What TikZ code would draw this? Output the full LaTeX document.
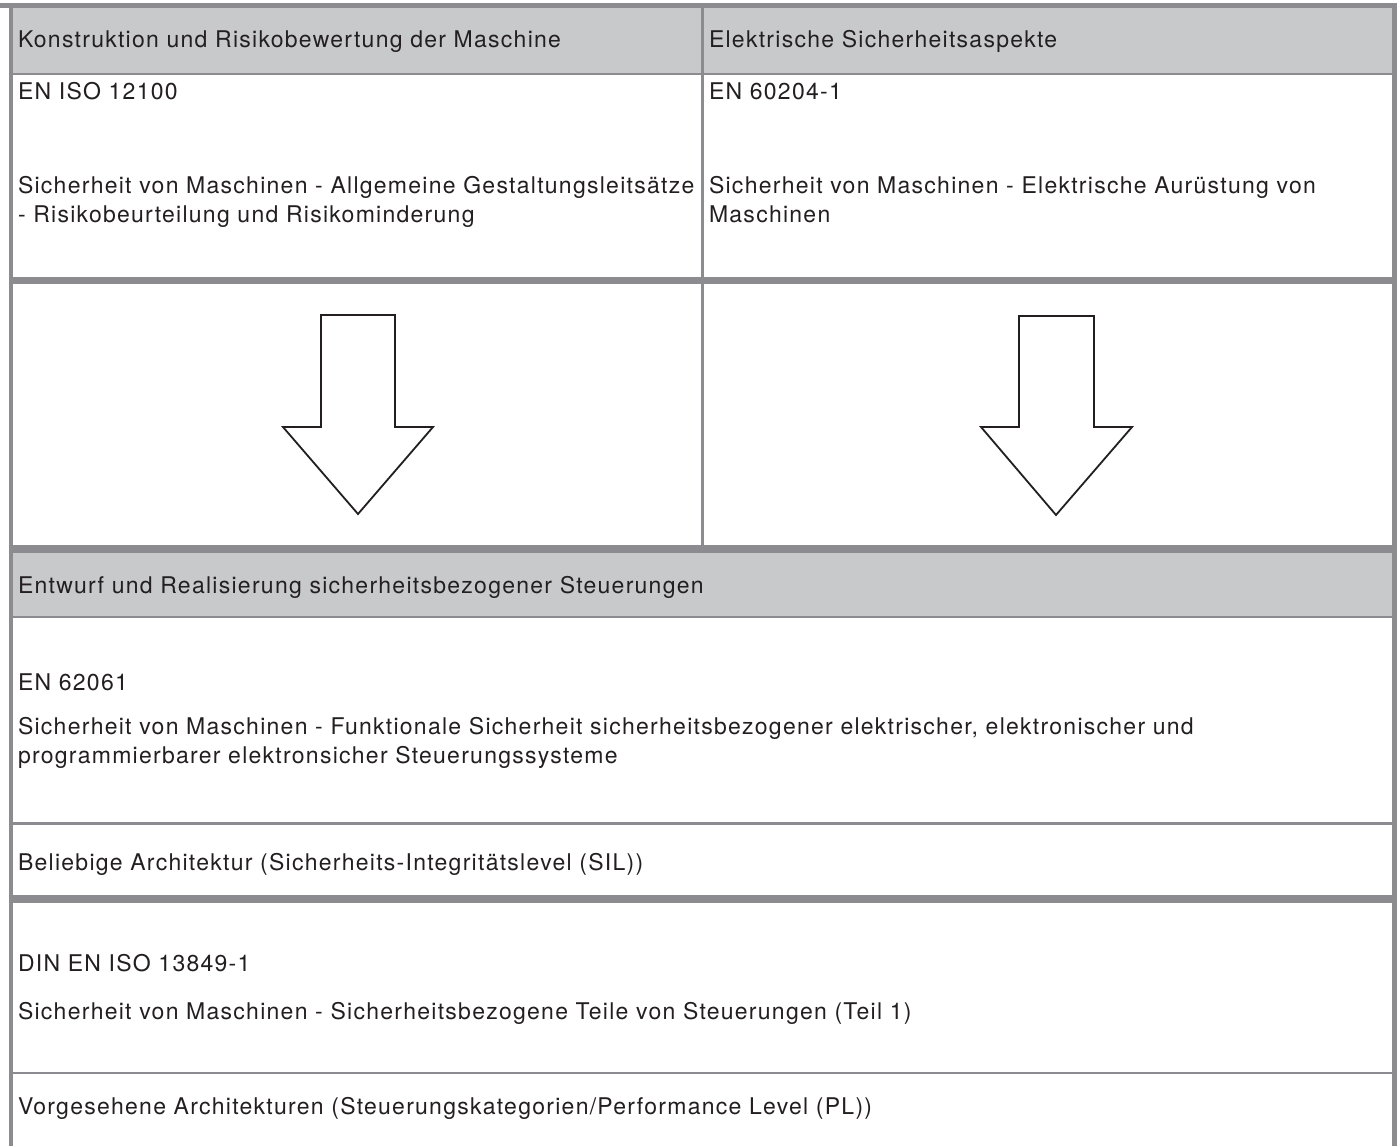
\documentclass[tikz,border=0pt]{standalone}
\usepackage{fontspec}
\setmainfont{TeX Gyre Heros}[LetterSpace=5.5]
\definecolor{rulegray}{HTML}{8C8C90}
\definecolor{headgray}{HTML}{C8C9CB}
\definecolor{ink}{HTML}{231F20}
\begin{document}
\begin{tikzpicture}[x=1pt,y=-1pt,
  txt/.style={anchor=base west,inner sep=0pt,outer sep=0pt,text=ink,font=\fontsize{23}{29}\selectfont},
  thinrule/.style={draw=rulegray,line width=2.5pt},
  thickrule/.style={draw=rulegray,line width=7.5pt},
  siderule/.style={draw=rulegray,line width=4.8pt},
  blockarrow/.style={draw=ink,fill=white,line width=1.8pt,line join=miter}]
\useasboundingbox (0,0) rectangle (1400,1146);
\fill[white] (0,0) rectangle (1400,1146);
% header fills
\fill[headgray] (11,8) rectangle (1394,74);
\fill[headgray] (11,552) rectangle (1394,617);
% rules
\draw[thickrule,line width=5pt] (0,5.8) -- (1397,5.8);
\draw[siderule,line width=4.4pt] (11,3.5) -- (11,1146);
\draw[siderule,line width=5.2pt] (1394.7,3.5) -- (1394.7,1146);
\draw[thinrule] (11,74) -- (1394,74);
\draw[thinrule] (702.3,8) -- (702.3,549);
\draw[thickrule,line width=7pt] (11,280.5) -- (1394,280.5);
\draw[thickrule] (11,549) -- (1394,549);
\draw[thinrule] (11,617) -- (1394,617);
\draw[thinrule] (11,823.7) -- (1394,823.7);
\draw[thickrule] (11,899) -- (1394,899);
\draw[thinrule] (11,1073) -- (1394,1073);
% block arrows
\draw[blockarrow] (321,315) -- (395,315) -- (395,427) -- (433,427) -- (358,514) -- (283,427) -- (321,427) -- cycle;
\draw[blockarrow] (1019,316) -- (1094,316) -- (1094,427) -- (1132,427) -- (1056,515) -- (981,427) -- (1019,427) -- cycle;
% texts
\node[txt] (h1) at (18,47) {Konstruktion und Risikobewertung der Maschine};
\node[txt] (h2) at (709,47) {Elektrische Sicherheitsaspekte};
\node[txt] (n1) at (18,99) {EN ISO 12100};
\node[txt] (n2) at (709,99) {EN 60204-1};
\node[txt] (d1a) at (18,193) {Sicherheit von Maschinen - Allgemeine Gestaltungsleitsätze};
\node[txt] (d1b) at (18,222) {- Risikobeurteilung und Risikominderung};
\node[txt] (d2a) at (709,193) {Sicherheit von Maschinen - Elektrische Aurüstung von};
\node[txt] (d2b) at (709,222) {Maschinen};
\node[txt] (h3) at (18,593) {Entwurf und Realisierung sicherheitsbezogener Steuerungen};
\node[txt] (n3) at (18,690) {EN 62061};
\node[txt] (d3a) at (18,734) {Sicherheit von Maschinen - Funktionale Sicherheit sicherheitsbezogener elektrischer, elektronischer und};
\node[txt] (d3b) at (18,763) {programmierbarer elektronsicher Steuerungssysteme};
\node[txt] (a3) at (18,870) {Beliebige Architektur (Sicherheits-Integritätslevel (SIL))};
\node[txt] (n4) at (18,971) {DIN EN ISO 13849-1};
\node[txt] (d4) at (18,1019) {Sicherheit von Maschinen - Sicherheitsbezogene Teile von Steuerungen (Teil 1)};
\node[txt] (a4) at (18,1114) {Vorgesehene Architekturen (Steuerungskategorien/Performance Level (PL))};
\end{tikzpicture}
\end{document}
